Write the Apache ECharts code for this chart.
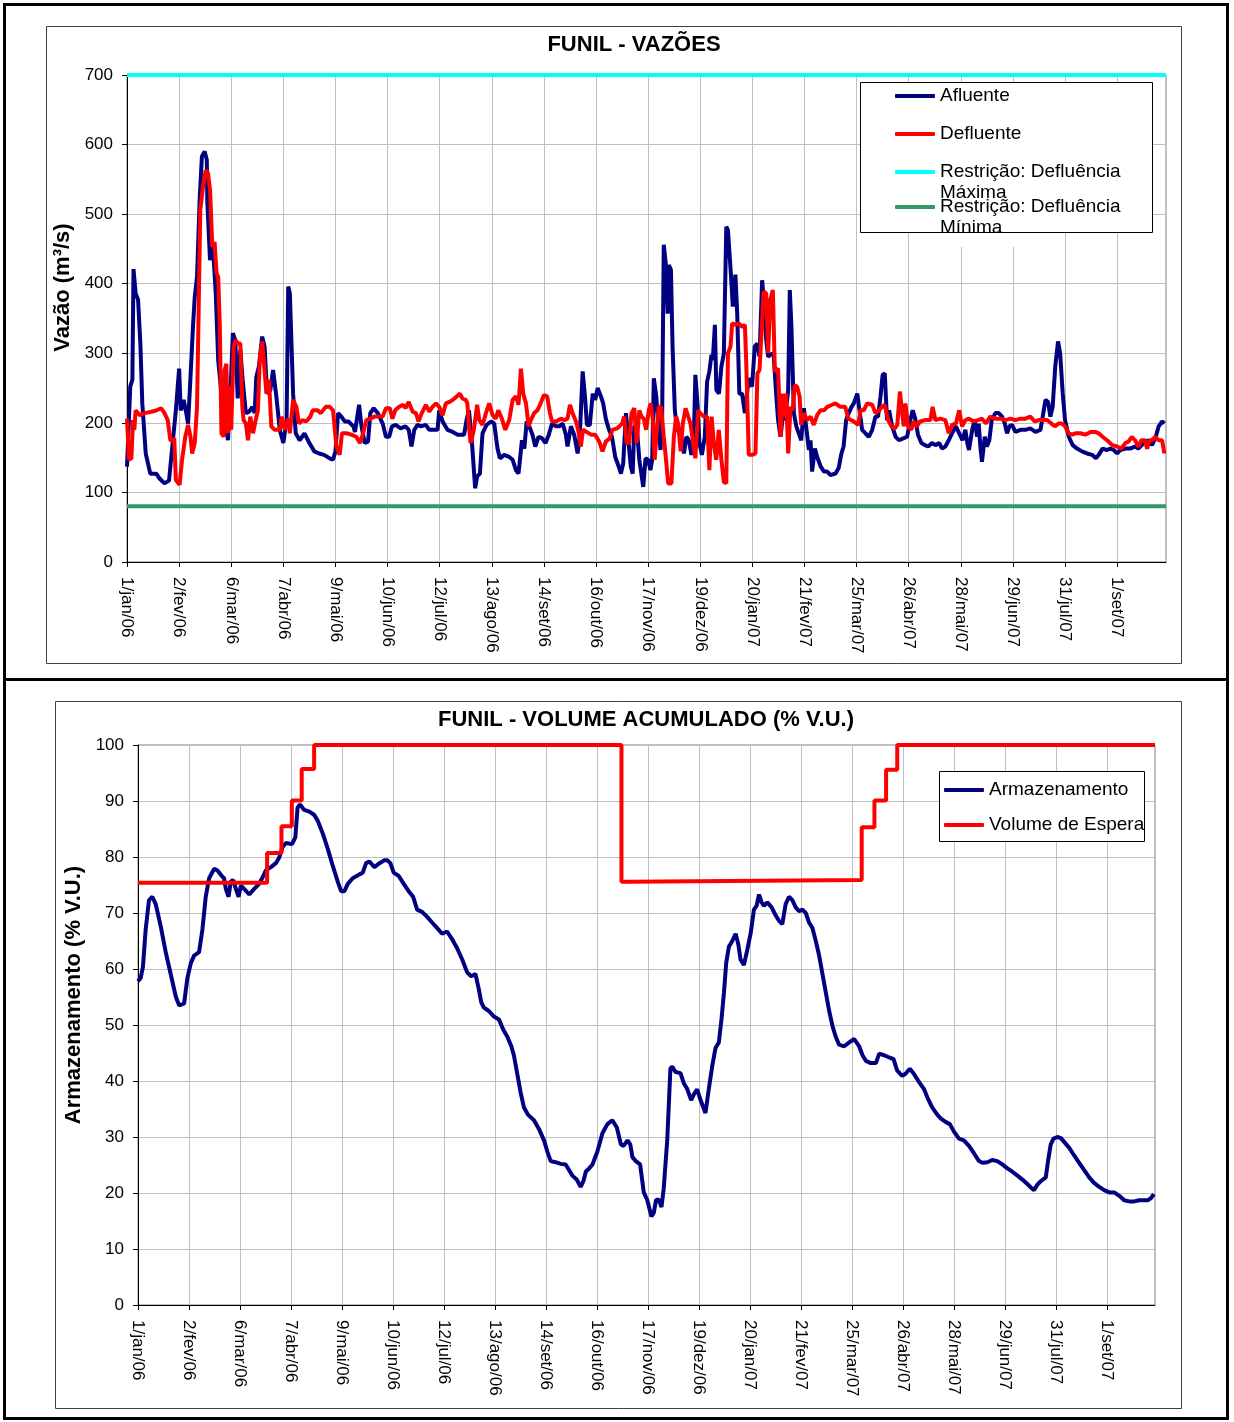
<!DOCTYPE html>
<html>
<head>
<meta charset="utf-8">
<script src="https://cdn.jsdelivr.net/npm/echarts@6/dist/echarts.min.js"></script>
<style>
  html, body { margin: 0; padding: 0; background: #fff; }
  #chart { width: 1234px; height: 1422px; }
</style>
</head>
<body>
<div id="chart"></div>
<script>
// eixo x: dias contados a partir de 1/jan/06, um rótulo a cada 32 dias
const NUM_DIAS = 638;
const rotulosDatas = ['1/jan/06', '2/fev/06', '6/mar/06', '7/abr/06', '9/mai/06', '10/jun/06',
  '12/jul/06', '13/ago/06', '14/set/06', '16/out/06', '17/nov/06', '19/dez/06', '20/jan/07',
  '21/fev/07', '25/mar/07', '26/abr/07', '28/mai/07', '29/jun/07', '31/jul/07', '1/set/07'];

// vazões (m³/s): [dia, valor]
const afluente = [[0,137],[2,252],[3.3,262],[4,421],[5.3,386],[6.8,377],[8.2,314],[9.4,228],[11.5,156],[14.3,127],[18,127],[20,120],[23,113],[25.8,117],[28.2,175],[30,218],[32,278],[33,218],[34.8,233],[36.4,214],[37.5,199],[39,266],[40.5,338],[41.6,381],[43,410],[44.6,520],[46,583],[47.7,590],[49,578],[49.3,520],[50.4,463],[51,434],[52.8,453],[54.5,386],[56,290],[58,242],[60,204],[62,175],[63.5,242],[65,329],[66.5,319],[68,235],[69.6,305],[71,262],[73,214],[75,216],[77,223],[78.4,214],[79.4,266],[81,281],[83,324],[84.5,309],[86,242],[88,247],[89.7,276],[91.7,238],[93.8,190],[96,171],[98,204],[99,396],[100,386],[102,242],[103.6,185],[106,175],[109,185],[112,171],[115,159],[118,156],[121,154],[124.5,149],[126.5,147],[128,159],[129.6,214],[131.6,209],[133.7,202],[136,202],[139,195],[140,187],[142.5,226],[144,195],[146,171],[148,173],[149.4,214],[151.5,221],[154,214],[157,199],[159,180],[161,180],[162.7,195],[165,197],[168,192],[171,195],[173,190],[174.7,166],[176.4,190],[178.4,197],[180.5,195],[183.5,197],[185.6,190],[190.7,190],[191.7,218],[193.8,202],[196.8,190],[200,187],[203,183],[207,183],[208.5,204],[210,218],[212,166],[213.8,106],[215,123],[216.7,127],[218.3,185],[220.8,197],[223.5,202],[225.5,199],[227.5,163],[229,149],[231.6,154],[234.7,151],[236.8,147],[238.8,132],[240.4,127],[241.3,147],[242.5,175],[244,163],[245.4,202],[247,195],[249,183],[250.7,166],[252.7,180],[254.8,178],[257,171],[259,183],[261,199],[263.4,195],[265.4,195],[267.5,199],[269.5,183],[270.5,166],[272.6,195],[274.6,183],[276.7,156],[278,180],[279.8,274],[281.4,233],[282.4,197],[284.2,197],[286,242],[287.5,233],[289,250],[291,238],[292.4,228],[294,206],[296,190],[297.8,180],[299.8,151],[302,137],[303.3,127],[304.7,142],[306.4,214],[308,171],[309.4,137],[310.5,127],[311.5,195],[313,195],[314.6,147],[317,108],[318.4,149],[320,147],[321.4,132],[322.5,147],[323.5,264],[325,238],[326,204],[327.6,161],[328.6,204],[329.6,456],[331,425],[332,357],[332.7,427],[334,420],[335,310],[336.4,218],[337.8,190],[340,185],[342,156],[343.5,180],[345,175],[346.6,154],[348,171],[349,269],[350.3,228],[351.5,171],[353,154],[354.8,180],[356.2,259],[357.6,274],[358.9,298],[359.7,290],[361,341],[361.9,247],[363.5,242],[365,281],[366.5,300],[368,482],[369,477],[370.8,415],[372,367],[373.6,413],[374.7,357],[376,242],[377.7,242],[379.4,214],[381.8,264],[383.8,252],[385.5,310],[387,314],[388.4,295],[390,405],[391,377],[392.5,319],[393.7,295],[395,298],[397,300],[398.6,242],[399.8,204],[401.3,180],[402.7,209],[404,204],[406,247],[407,391],[408,338],[409.5,214],[411,195],[412.5,185],[414,175],[415.6,221],[417,195],[418.7,161],[419.7,175],[420.7,130],[422.4,163],[423.8,151],[426,137],[428,130],[430,130],[432,125],[435,127],[437,135],[438.7,156],[440,166],[441.6,204],[443.2,214],[444.9,223],[446.3,228],[448.4,242],[449.8,218],[451.4,190],[453.5,185],[455.5,180],[457.6,190],[459.6,209],[461.2,209],[462.7,238],[464,269],[465.3,271],[466.7,204],[468,218],[469.8,195],[472,180],[474,175],[477,178],[479,180],[481,204],[482.5,218],[484,206],[485.7,183],[487.8,171],[490,168],[492,166],[494.3,171],[496.4,168],[498.8,171],[500.5,163],[502.5,166],[504.6,175],[506.6,185],[509,195],[511,185],[513,175],[514.8,190],[516,171],[517,161],[519,190],[520.5,204],[522,180],[523,199],[524,166],[525,144],[526.7,180],[528,166],[529.5,175],[531,204],[533.2,214],[535.3,214],[537.3,209],[539,199],[540.4,185],[541.8,195],[543.5,197],[545.5,187],[548.6,190],[551.6,190],[554.7,192],[557.8,187],[560.9,190],[562.3,209],[564,233],[565.6,230],[567,209],[568.4,223],[570,281],[571.7,317],[573,300],[574.6,242],[576,204],[578.3,180],[580.7,168],[583.4,163],[586.4,159],[589.5,156],[592.6,154],[595,149],[596.7,154],[599,163],[601.8,161],[603.8,163],[605.9,161],[608,156],[610,161],[613,163],[616,163],[619,166],[621,163],[624.3,171],[627,175],[629.4,168],[631.5,178],[633.5,195],[635.6,202],[637,199]];

const defluente = [[0,206],[1.2,147],[2.7,149],[3.7,204],[4.5,190],[5.3,218],[7.8,211],[10.8,214],[15,216],[18,218],[21,221],[23,214],[25,204],[26.6,175],[28,175],[29,178],[30,118],[32.3,111],[33.8,147],[34.8,147],[35.8,180],[37.5,197],[39,180],[40,156],[41.6,171],[43,223],[44,362],[45,506],[46.7,540],[48.3,563],[49.7,559],[51,535],[52.4,453],[53.8,460],[55,415],[56,410],[57,338],[58,185],[59.4,180],[60,276],[61,285],[62,185],[63,252],[64,190],[65.5,309],[66.7,319],[68,314],[69.6,314],[70.8,223],[71.6,204],[73,199],[74.3,175],[75.7,209],[77.4,185],[79,204],[80.4,218],[81.5,290],[83,317],[84,290],[85.6,242],[87.2,262],[88.6,195],[90.7,190],[93.8,190],[95,209],[96.8,190],[99,206],[100,185],[102,233],[104,223],[105.6,199],[107.7,204],[110,202],[112.6,209],[114,218],[117,218],[119,214],[122,223],[124.5,223],[126.5,218],[128.6,166],[130.6,154],[132,185],[134.7,185],[137.8,183],[140.8,180],[143,171],[145,185],[147,204],[149.4,206],[152,209],[155,209],[157,209],[159,221],[161.4,221],[163,206],[164.7,218],[167,223],[169.6,226],[171,221],[173,230],[175.4,216],[177.4,214],[179,202],[181,214],[183.5,226],[185.6,216],[187.6,223],[189.7,228],[191.7,223],[193.8,211],[195.8,228],[198,230],[200,233],[202.4,238],[204.4,242],[206,235],[208,233],[209,228],[210,195],[211,171],[213,190],[215,226],[216.3,204],[218.3,197],[220.4,214],[222.4,228],[224.5,211],[226.5,206],[228,218],[230.2,206],[232.3,190],[234.7,204],[236.8,233],[238.8,238],[240.4,226],[241.9,278],[243.3,242],[245,228],[246.6,195],[248,204],[250,214],[252,218],[254,228],[256,240],[258,238],[259.7,214],[261,202],[263.4,202],[266.4,206],[268.5,204],[270.5,206],[272,226],[273.6,214],[275.7,202],[277.3,187],[278.7,166],[280,190],[282.2,187],[284.9,183],[287.5,183],[290,173],[292,159],[294,173],[296.5,178],[298,190],[301,192],[304,199],[305.3,209],[306.8,171],[308.4,171],[309.8,214],[311.5,221],[313,171],[314.6,218],[316,209],[317.3,206],[318.8,190],[320.4,218],[321.6,228],[322.9,204],[324,147],[325.5,195],[326.5,223],[328,223],[329.6,180],[331,147],[332.3,113],[334.3,113],[335.8,180],[337.2,209],[338.4,199],[340,159],[341.3,199],[343,221],[344.6,209],[346,199],[347.4,175],[349,149],[350.7,218],[352,214],[354.2,209],[356.2,209],[357.6,132],[359,209],[360.3,171],[361.8,147],[363.4,190],[365,147],[366.5,115],[368,113],[369,300],[370.6,310],[371.6,343],[373.6,341],[375.7,343],[377.7,338],[379.4,341],[380.2,290],[381.8,154],[383.8,154],[385.9,156],[387.1,271],[388.4,276],[389.6,329],[391,389],[392.5,386],[393.7,300],[395,377],[396.6,391],[397.8,274],[399.8,278],[401.3,180],[402.7,242],[404,209],[404.7,242],[406,156],[407.4,223],[408.8,218],[410,254],[411.5,252],[413,238],[414,197],[415.6,214],[417.6,204],[419.7,209],[421.7,197],[423.8,211],[425.8,218],[428,218],[430,223],[433,226],[435,228],[438,223],[441,223],[443,206],[446.3,202],[449,197],[450.4,218],[452.4,218],[454.5,228],[457.6,226],[459.6,214],[461.7,218],[463.7,223],[465.3,226],[467.4,204],[469.4,195],[471.5,192],[473,197],[474.6,245],[476,214],[477,195],[478,228],[479.6,195],[481.6,190],[483,202],[485,195],[487,202],[490,204],[493.3,204],[494.7,223],[496.4,204],[499.4,206],[502.5,204],[504.6,185],[506.6,197],[509,199],[511,218],[512.8,195],[514.8,204],[517,206],[520,202],[522.6,204],[525,206],[527.5,199],[530,209],[533.2,206],[536.3,206],[539.4,204],[542.4,206],[545.5,204],[548.6,206],[551.6,206],[554.7,209],[557.4,202],[559.8,204],[562.3,204],[565,204],[567.6,199],[570,195],[572,199],[574,199],[576,195],[578.3,185],[580.3,183],[582.4,185],[585.4,185],[588.5,183],[591.6,187],[594.6,187],[596.7,185],[599,180],[601.8,175],[605,168],[608,166],[610.6,163],[613,171],[615,173],[617,180],[619,175],[621,166],[622.9,175],[625,175],[626.4,163],[627.8,175],[629.4,175],[631.5,180],[633.5,175],[635.6,175],[637,156]];

const defluenciaMaxima = [[0,700],[NUM_DIAS,700]];
const defluenciaMinima = [[0,80],[NUM_DIAS,80]];

// volume acumulado (% V.U.): [dia, valor]
const armazenamento = [[0,57.8],[1.7,58.4],[3.1,60.4],[4.8,67],[6.9,72.3],[9,72.9],[11.1,71.6],[14.2,67.7],[17.4,63],[20.5,59.1],[23.7,55.1],[25.8,53.5],[28.9,53.8],[31,58.4],[33.1,61],[35.2,62.4],[38.3,63],[40.4,67],[42.5,72.9],[44.6,76.2],[47.8,77.9],[49.9,77.6],[52.6,76.6],[54,76.2],[55.1,74.3],[56.8,72.9],[58.2,75.6],[59.7,75.9],[61.4,74.3],[63.1,72.9],[64.5,74.9],[66.6,74.3],[69.8,73.3],[72.9,74.3],[76,75.2],[78.6,76.6],[80.2,77.6],[83.4,78.2],[86.5,78.9],[88.6,79.9],[90.7,81.8],[92.8,82.5],[96.6,82.3],[98.7,83.5],[100.1,88.8],[101.6,89.4],[104.3,88.4],[107.5,88.1],[110.6,87.5],[112.7,86.5],[115.9,84.2],[119,81.5],[122.1,78.5],[125.3,75.6],[127.4,73.9],[129.5,73.9],[131.6,75.2],[134.7,76.2],[138.9,76.9],[141,77.2],[143.1,78.9],[145.2,79.2],[148.3,78.2],[151.5,78.9],[154.6,79.4],[156.5,79.4],[158.3,78.9],[160.4,77.2],[163.6,76.6],[166.7,75.2],[169.8,73.9],[172.6,72.9],[175.1,70.6],[178.2,70.2],[181.4,69.3],[184.5,68.3],[187.7,67.3],[190.8,66.3],[193.9,66.7],[197.1,65.3],[200.2,63.7],[203.4,61.7],[206.5,59.4],[209,58.7],[211.7,59.1],[213.8,56.4],[215.3,54.1],[217,53.1],[220.1,52.5],[223.3,51.5],[226.4,51],[229.1,49.2],[231.7,47.9],[234.2,46.2],[235.8,44.6],[237.9,41.3],[240,38],[242.1,35.3],[244.6,34],[248.4,33],[251.6,31.4],[254.7,29.4],[256.8,27.4],[258.9,25.7],[262,25.5],[265.2,25.2],[268.3,25.1],[270.4,24.1],[272.5,23.1],[275.2,22.4],[277.7,21.1],[279.4,22.1],[280.9,23.8],[283,24.4],[285.1,25.1],[288.2,27.4],[291.4,30.7],[294.5,32.3],[297.6,33],[300.4,31.7],[302.9,28.7],[304.6,28.4],[307.1,29.4],[308.8,28.7],[310.2,26.4],[312.3,25.7],[315,25.1],[317.3,20.1],[319.4,18.8],[322.1,15.8],[323.6,16.5],[325,18.8],[326.7,18.8],[328.4,17.5],[329.8,20.8],[332,29.4],[334,42.2],[335.1,42.6],[337.2,41.6],[340.3,41.4],[342.4,39.6],[344.5,38.6],[347,36.6],[348.7,37.6],[350.8,38.5],[352.9,36.6],[356,34.3],[358.1,38.6],[360.2,42.6],[362.3,45.9],[364.4,46.9],[366.1,51.2],[367.6,55.8],[369,61.1],[370.7,64],[372.8,65],[374.9,66.3],[376.6,64.4],[378,61.7],[380.1,60.7],[382.2,63.4],[384.3,66.3],[386.4,70.6],[388.1,71.3],[389.6,73.3],[391.2,71.9],[392.7,71.3],[394.8,71.9],[397.5,71],[400,69.6],[402.1,68.6],[404.2,68],[406.3,71.6],[408.4,72.9],[410.5,72.3],[412.6,71],[414.7,70.3],[416.8,70.6],[418.9,70],[421,68.3],[423.1,67.3],[425.2,65],[427.3,62.4],[429.4,59.1],[431.5,55.8],[433.6,52.5],[435.7,49.8],[437.7,47.9],[439.8,46.5],[443,46.2],[446.2,46.9],[449.3,47.5],[452.4,46.2],[454.5,44.6],[456.6,43.6],[459.7,43.2],[462.9,43.2],[465,44.9],[468.1,44.6],[471.3,44.2],[474,43.9],[476.2,41.9],[479.4,40.9],[481.5,41.3],[484.2,42.2],[486.7,41.3],[489.8,39.9],[493,38.6],[495.3,37],[498.2,35.3],[501.4,34],[503.7,33.3],[506.6,32.7],[509.3,32.3],[511.8,31],[515,29.7],[518.1,29.4],[521.3,28.4],[524.4,27.1],[527.6,25.7],[529.7,25.4],[532.8,25.5],[535.9,25.9],[539.1,25.7],[542.2,25.1],[545.4,24.4],[548.5,23.8],[551.7,23.1],[554.8,22.4],[557.9,21.6],[560.5,20.9],[562.1,20.5],[564.2,21.5],[566.3,22.1],[569.5,22.8],[571.1,26.1],[572.6,28.7],[574.3,29.7],[576.8,30],[579,29.8],[581.4,29],[584.1,28.1],[587.3,26.7],[590.4,25.4],[593.6,24.1],[596.7,22.8],[599.8,21.8],[603,21.1],[606.1,20.5],[609.3,20.1],[612.4,20.1],[615.6,19.5],[618.7,18.7],[621.8,18.5],[625,18.5],[628.1,18.7],[630.8,18.7],[633.4,18.7],[635.5,19.1],[637.3,19.8]];

// volume de espera: início de cada patamar [dia, valor]
const volumeEspera = [[0,75.4],[81,80.7],[90,85.5],[96.5,90.1],[102.7,95.7],[110.5,100],[303.3,75.6],[308,75.9],[454,85.3],[462,90.1],[469.3,95.6],[476.3,100],[NUM_DIAS,100]];

const FONTE = '"Liberation Sans", Arial, sans-serif';
const GRADE = '#c0c0c0';

// eixo x de datas, igual nos dois gráficos
const eixoDatas = (gridIndex) => ({
  type: 'value',
  gridIndex,
  min: 0,
  max: NUM_DIAS,
  interval: 32,
  axisLine: { show: true, onZero: false, lineStyle: { color: '#000', width: 1 } },
  axisTick: { show: true, length: 5, lineStyle: { color: '#000' } },
  axisLabel: {
    rotate: -90, margin: 15, fontSize: 17, color: '#000', fontFamily: FONTE,
    showMaxLabel: false,
    formatter: (v) => (v % 32 === 0 && rotulosDatas[v / 32]) || '',
  },
  splitLine: { show: true, lineStyle: { color: GRADE, width: 1 } },
});

const eixoValores = (gridIndex, max, interval, name, shift) => ({
  type: 'value',
  gridIndex,
  min: 0,
  max,
  interval,
  name,
  nameLocation: 'middle',
  nameGap: 52,
  nameTextStyle: { fontSize: 22, fontWeight: 'bold', color: '#000', fontFamily: FONTE, padding: [0, 0, 0, shift] },
  axisLine: { show: true, lineStyle: { color: '#000', width: 1 } },
  axisTick: { show: true, length: 5, lineStyle: { color: '#000' } },
  axisLabel: { margin: 14, fontSize: 17, color: '#000', fontFamily: FONTE },
  splitLine: { show: true, lineStyle: { color: GRADE, width: 1 } },
});

const linha = (name, data, color, xi, extra) => ({
  name, type: 'line', data, color,
  xAxisIndex: xi, yAxisIndex: xi,
  showSymbol: false, symbol: 'none', clip: false,
  lineStyle: { color, width: 4 },
  emphasis: { disabled: true },
  ...extra,
});

// legenda: um componente por item, para posicionar cada linha.
// nos itens de duas linhas, uma linha vazia em cima deixa a primeira linha na altura do ícone
const estiloLegenda = { fontSize: 19, lineHeight: 21, color: '#000', fontFamily: FONTE };
const itemLegenda = (name, left, centroY, duasLinhas) => ({
  orient: 'vertical',
  left,
  top: centroY - (duasLinhas ? 31.5 : 10.5),
  padding: 0,
  itemWidth: 40,
  itemHeight: 4,
  icon: 'roundRect',
  selectedMode: false,
  z: 5,
  textStyle: estiloLegenda,
  formatter: (n) => (duasLinhas ? ' \n' + n.replace('Defluência ', 'Defluência\n') : n),
  data: [name],
});

const chart = echarts.init(document.getElementById('chart'), null, { renderer: 'canvas' });

chart.setOption({
  animation: false,
  backgroundColor: '#fff',
  title: [
    { text: 'FUNIL - VAZÕES', left: 634, top: 34, textAlign: 'center', padding: 0,
      textStyle: { fontSize: 22, fontWeight: 'bold', color: '#000', fontFamily: FONTE } },
    { text: 'FUNIL - VOLUME ACUMULADO (% V.U.)', left: 646, top: 709, textAlign: 'center', padding: 0,
      textStyle: { fontSize: 22, fontWeight: 'bold', color: '#000', fontFamily: FONTE } },
  ],
  grid: [
    { left: 127, right: 68, top: 75, bottom: 860, show: true, borderColor: '#808080', borderWidth: 1, containLabel: false },
    { left: 138, right: 79, top: 745, bottom: 117, show: true, borderColor: '#808080', borderWidth: 1, containLabel: false },
  ],
  xAxis: [eixoDatas(0), eixoDatas(1)],
  yAxis: [
    eixoValores(0, 700, 100, 'Vazão (m³/s)', 62),
    eixoValores(1, 100, 10, 'Armazenamento (% V.U.)', 60),
  ],
  legend: [
    itemLegenda('Afluente', 895, 96, false),
    itemLegenda('Defluente', 895, 134, false),
    itemLegenda('Restrição: Defluência Máxima', 895, 172, true),
    itemLegenda('Restrição: Defluência Mínima', 895, 207, true),
    itemLegenda('Armazenamento', 944, 790, false),
    itemLegenda('Volume de Espera', 944, 825, false),
  ],
  graphic: [
    // moldura externa e divisória
    { type: 'rect', shape: { x: 4.5, y: 4.5, width: 1223, height: 1414 }, style: { fill: null, stroke: '#000', lineWidth: 3 }, z: 1, silent: true },
    { type: 'line', shape: { x1: 4, y1: 679.5, x2: 1228, y2: 679.5 }, style: { stroke: '#000', lineWidth: 3 }, z: 1, silent: true },
    // áreas dos gráficos
    { type: 'rect', shape: { x: 46.5, y: 26.5, width: 1135, height: 637 }, style: { fill: null, stroke: '#404040', lineWidth: 1 }, z: 1, silent: true },
    { type: 'rect', shape: { x: 55.5, y: 701.5, width: 1126, height: 707 }, style: { fill: null, stroke: '#404040', lineWidth: 1 }, z: 1, silent: true },
    // caixas das legendas
    { type: 'rect', shape: { x: 860.5, y: 82.5, width: 292, height: 150 }, style: { fill: '#fff', stroke: '#000', lineWidth: 1 }, z: 3, silent: true },
    { type: 'rect', shape: { x: 939.5, y: 771.5, width: 205, height: 70 }, style: { fill: '#fff', stroke: '#000', lineWidth: 1 }, z: 3, silent: true },
    // o texto que passa da caixa fica cortado
    { type: 'rect', shape: { x: 936, y: 233, width: 80, height: 14 }, style: { fill: '#fff' }, z: 6, silent: true },
  ],
  series: [
    linha('Afluente', afluente, '#000080', 0),
    linha('Defluente', defluente, '#ff0000', 0),
    linha('Restrição: Defluência Máxima', defluenciaMaxima, '#00ffff', 0),
    linha('Restrição: Defluência Mínima', defluenciaMinima, '#339966', 0),
    linha('Armazenamento', armazenamento, '#000080', 1),
    linha('Volume de Espera', volumeEspera, '#ff0000', 1, { step: 'end' }),
  ],
});
</script>
</body>
</html>
